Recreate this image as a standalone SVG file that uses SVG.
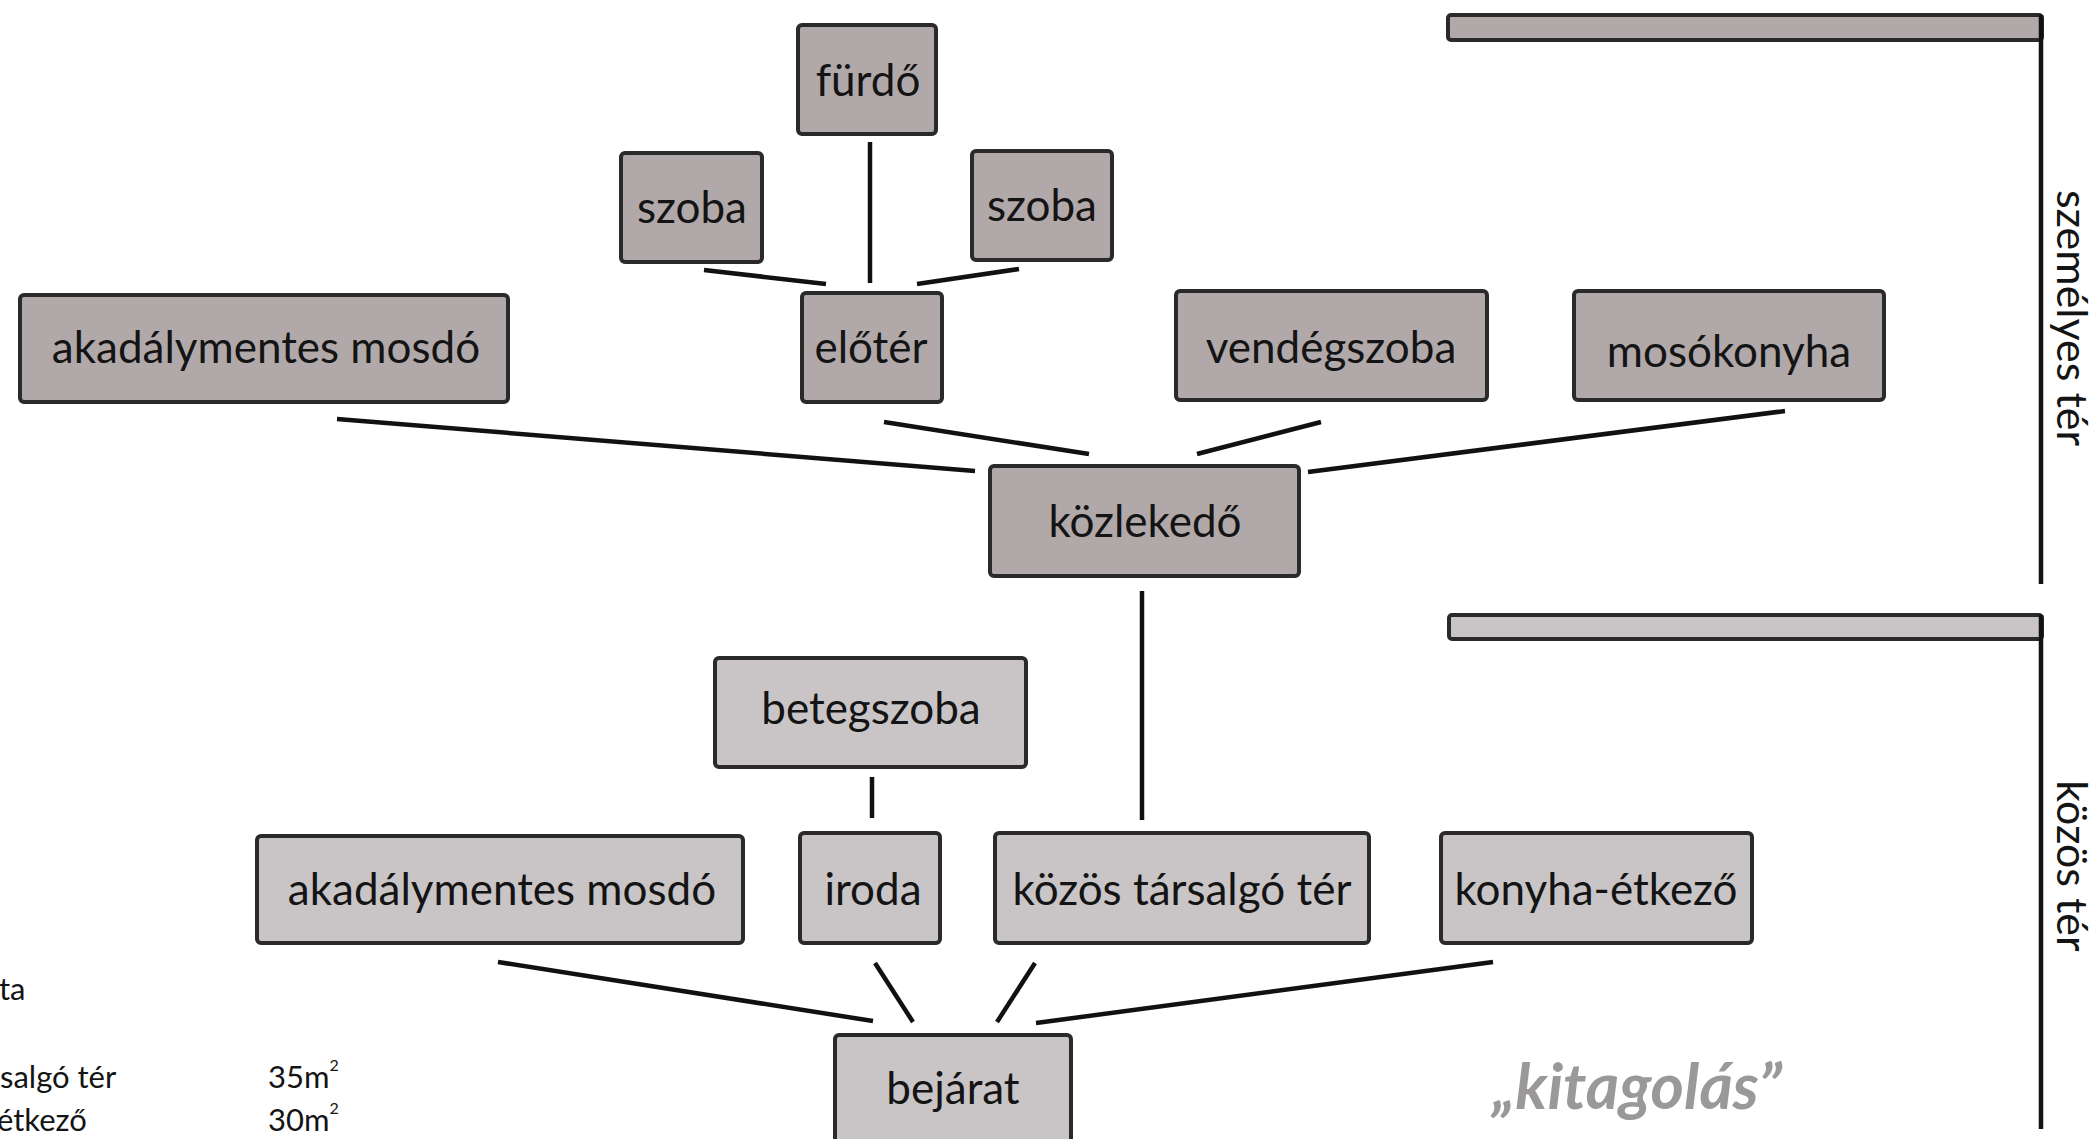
<svg xmlns="http://www.w3.org/2000/svg" width="2100" height="1139" viewBox="0 0 2100 1139">
<style>
  .dark { fill: #b1a9a9; stroke: #2a2a2a; stroke-width: 4; }
  .light { fill: #c9c5c6; stroke: #2a2a2a; stroke-width: 4; }
  .lbl { font-family: Lato, "Liberation Sans", sans-serif; font-size: 44px; fill: #141414; text-anchor: middle; }
  .side { font-family: Lato, "Liberation Sans", sans-serif; font-size: 43px; fill: #141414; text-anchor: middle; }
  .note { font-family: Lato, "Liberation Sans", sans-serif; font-size: 31px; fill: #141414; }
  .conn line { stroke: #111; stroke-width: 4.5; }
</style>
<rect width="2100" height="1139" fill="#ffffff"/>

<g id="zones">
  <rect x="1448" y="15" width="594" height="25" rx="3" class="dark"/>
  <line x1="2041" y1="15" x2="2041" y2="584" stroke="#111" stroke-width="4.5"/>
  <rect x="1449" y="615" width="593" height="24" rx="3" class="light"/>
  <line x1="2041" y1="615" x2="2041" y2="1129" stroke="#111" stroke-width="4.5"/>
  <text class="side" transform="translate(2057,318) rotate(90)">személyes tér</text>
  <text class="side" transform="translate(2057,866) rotate(90)">közös tér</text>
</g>

<g id="connectors" class="conn">
  <line x1="870" y1="142" x2="870" y2="283"/>
  <line x1="704" y1="270" x2="826" y2="284"/>
  <line x1="1019" y1="269" x2="917" y2="284"/>
  <line x1="337" y1="419" x2="975" y2="471"/>
  <line x1="884" y1="422" x2="1089" y2="454"/>
  <line x1="1321" y1="422" x2="1197" y2="454"/>
  <line x1="1785" y1="411" x2="1308" y2="472"/>
  <line x1="1142" y1="591" x2="1142" y2="820"/>
  <line x1="872" y1="777" x2="872" y2="818"/>
  <line x1="498" y1="962" x2="873" y2="1021"/>
  <line x1="875" y1="963" x2="913" y2="1022"/>
  <line x1="1035" y1="963" x2="997" y2="1022"/>
  <line x1="1493" y1="962" x2="1036" y2="1023"/>
</g>

<g id="furdo"><rect x="798" y="25" width="138" height="109" rx="4" class="dark"/><text class="lbl" x="868" y="96">fürdő</text></g>
<g id="szoba1"><rect x="621" y="153" width="141" height="109" rx="4" class="dark"/><text class="lbl" x="692" y="223">szoba</text></g>
<g id="szoba2"><rect x="972" y="151" width="140" height="109" rx="4" class="dark"/><text class="lbl" x="1042" y="221">szoba</text></g>
<g id="eloter"><rect x="802" y="293" width="140" height="109" rx="4" class="dark"/><text class="lbl" x="871" y="363">előtér</text></g>
<g id="akadalymentes1"><rect x="20" y="295" width="488" height="107" rx="4" class="dark"/><text class="lbl" x="266" y="363">akadálymentes mosdó</text></g>
<g id="vendegszoba"><rect x="1176" y="291" width="311" height="109" rx="4" class="dark"/><text class="lbl" x="1331" y="363">vendégszoba</text></g>
<g id="mosokonyha"><rect x="1574" y="291" width="310" height="109" rx="4" class="dark"/><text class="lbl" x="1729" y="367">mosókonyha</text></g>
<g id="kozlekedo"><rect x="990" y="466" width="309" height="110" rx="4" class="dark"/><text class="lbl" x="1145" y="537">közlekedő</text></g>

<g id="betegszoba"><rect x="715" y="658" width="311" height="109" rx="4" class="light"/><text class="lbl" x="871" y="724">betegszoba</text></g>
<g id="akadalymentes2"><rect x="257" y="836" width="486" height="107" rx="4" class="light"/><text class="lbl" x="502" y="905">akadálymentes mosdó</text></g>
<g id="iroda"><rect x="800" y="833" width="140" height="110" rx="4" class="light"/><text class="lbl" x="873" y="905">iroda</text></g>
<g id="kozos"><rect x="995" y="833" width="374" height="110" rx="4" class="light"/><text class="lbl" x="1182" y="905">közös társalgó tér</text></g>
<g id="konyha"><rect x="1441" y="833" width="311" height="110" rx="4" class="light"/><text class="lbl" x="1596" y="905">konyha-étkező</text></g>
<g id="bejarat"><rect x="835" y="1035" width="236" height="130" rx="4" class="light"/><text class="lbl" x="953" y="1104">bejárat</text></g>

<text x="1637" y="1109" font-family="Lato, 'Liberation Sans', sans-serif" font-size="64" font-weight="bold" font-style="italic" fill="#9a9899" text-anchor="middle">„kitagolás”</text>

<g id="list">
  <text class="note" x="-1" y="1000">ta</text>
  <text class="note" x="0" y="1088">salgó tér</text>
  <text class="note" x="-3" y="1131">étkező</text>
  <text class="note" x="268" y="1088">35m<tspan font-size="16" dy="-17">2</tspan></text>
  <text class="note" x="268" y="1131">30m<tspan font-size="16" dy="-17">2</tspan></text>
</g>
</svg>
